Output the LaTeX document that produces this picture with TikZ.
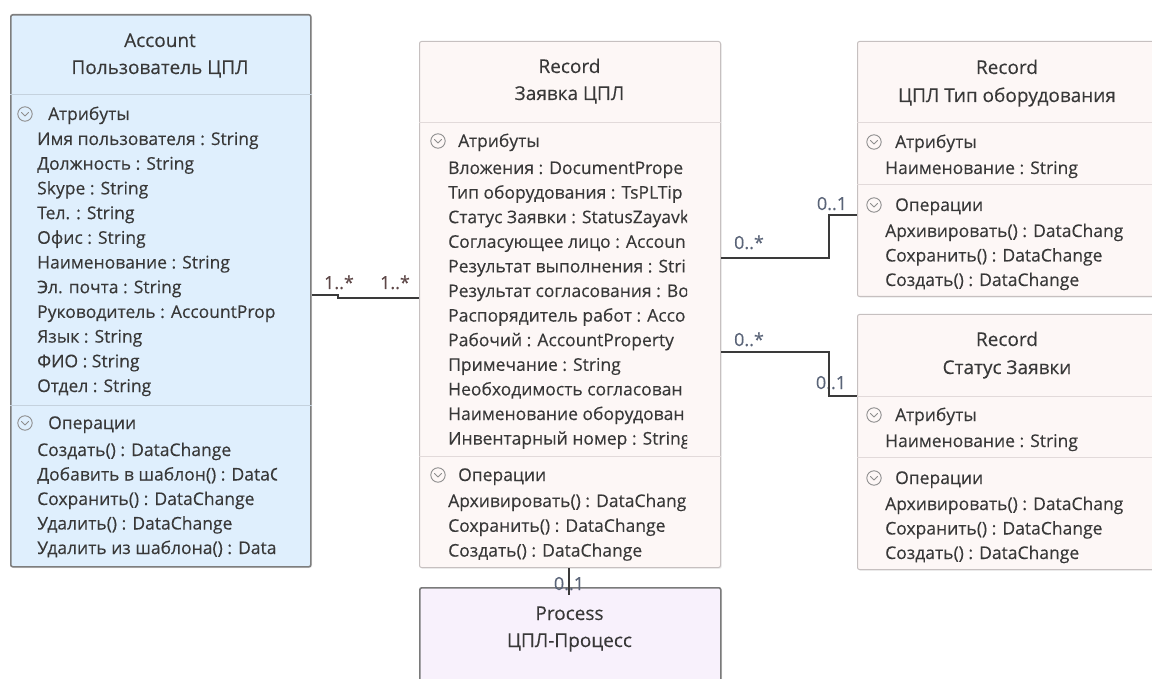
\documentclass[tikz,border=0pt]{standalone}
\usepackage{fontspec}
\setmainfont{Open Sans}[FakeBold=0.25]
\usetikzlibrary{shadows}
\definecolor{accfill}{HTML}{DFEFFD}
\definecolor{accdraw}{HTML}{7E7E7E}
\definecolor{accsep}{HTML}{C5D2DE}
\definecolor{recfill}{HTML}{FDF7F6}
\definecolor{recdraw}{HTML}{C6C0C0}
\definecolor{recsep}{HTML}{E2DADA}
\definecolor{procfill}{HTML}{F8F1FC}
\definecolor{procdraw}{HTML}{7A7A7A}
\definecolor{txtc}{HTML}{383838}
\definecolor{labc}{HTML}{5A6478}
\definecolor{lab1c}{HTML}{5E4848}
\definecolor{iconc}{HTML}{8E8E8E}
\definecolor{linec}{HTML}{3A3A3A}
\newcommand\chev[2]{%
  \draw[iconc, line width=0.9pt] (#1,#2) circle (7.2);
  \draw[iconc, line width=1pt, line cap=round, line join=round] (#1-3.6,#2-1.6) -- (#1,#2+2) -- (#1+3.6,#2-1.6);}
\tikzset{
  boxbase/.style={rectangle, rounded corners=2pt, anchor=north west, inner sep=0pt, drop shadow={shadow xshift=1.2pt, shadow yshift=-1.2pt, opacity=0.18}},
  accbox/.style={boxbase, fill=accfill, draw=accdraw, line width=1.6pt},
  recbox/.style={boxbase, fill=recfill, draw=recdraw, line width=1pt},
  procbox/.style={boxbase, fill=procfill, draw=procdraw, line width=1.6pt},
  txt/.style={inner sep=0pt, text=txtc, font=\fontsize{17.5}{21}\selectfont},
  item/.style={txt, anchor=base west},
  head/.style={txt, anchor=base, font=\fontsize{19}{23}\selectfont},
  lab/.style={inner sep=0pt, text=labc, font=\fontsize{18}{21}\selectfont, anchor=base},
  lab1/.style={lab, text=lab1c},
  conn/.style={draw=linec, line width=2pt},
  accsepl/.style={draw=accsep, line width=1pt},
  recsepl/.style={draw=recsep, line width=1pt}
}
\begin{document}
\begin{tikzpicture}[x=1pt, y=-1pt]
\useasboundingbox (0,0) rectangle (1152,679);
% ---------------- boxes
\node[accbox, minimum width=300, minimum height=552] (acc) at (10,14) {};
\node[recbox, minimum width=301, minimum height=526] (rec) at (419,41) {};
\node[recbox, minimum width=300, minimum height=255] (typ) at (857,41) {};
\node[recbox, minimum width=300, minimum height=255] (st) at (857,314) {};
\node[procbox, minimum width=301, minimum height=120] (proc) at (419,587) {};
% separators
\draw[accsepl] (acc.west |- 0,95) -- (acc.east |- 0,95);
\draw[accsepl] (acc.west |- 0,405) -- (acc.east |- 0,405);
\draw[recsepl] (rec.west |- 0,123) -- (rec.east |- 0,123);
\draw[recsepl] (rec.west |- 0,456) -- (rec.east |- 0,456);
\draw[recsepl] (typ.west |- 0,123) -- (typ.east |- 0,123);
\draw[recsepl] (typ.west |- 0,185) -- (typ.east |- 0,185);
\draw[recsepl] (st.west |- 0,396) -- (st.east |- 0,396);
\draw[recsepl] (st.west |- 0,457) -- (st.east |- 0,457);
% ---------------- Account
\node[head] (acc-t1) at (160,47) {Account};
\node[head] (acc-t2) at (160,74) {Пользователь ЦПЛ};
\chev{25}{114}
\node[item] (acc-h1) at (48,120) {Атрибуты};
\chev{25}{423}
\node[item] (acc-h2) at (48,429) {Операции};
\begin{scope}
\clip (10,14) rectangle (277,566);
\foreach \t [count=\i] in {Имя пользователя : String, Должность : String, Skype : String, Тел. : String, Офис : String, Наименование : String, Эл. почта : String, Руководитель : AccountProp, Язык : String, ФИО : String, Отдел : String}
  \node[item] (acc-a\i) at (37,{145+24.7*(\i-1)}) {\t};
\foreach \t [count=\i] in {Создать() : DataChange, Добавить в шаблон() : DataC, Сохранить() : DataChange, Удалить() : DataChange, Удалить из шаблона() : Data}
  \node[item] (acc-o\i) at (37,{456+24.5*(\i-1)}) {\t};
\end{scope}
% ---------------- Record Заявка ЦПЛ
\node[head] (rec-t1) at (569.5,73) {Record};
\node[head] (rec-t2) at (569.5,100) {Заявка ЦПЛ};
\chev{438}{141}
\node[item] (rec-h1) at (458,147) {Атрибуты};
\chev{438}{475}
\node[item] (rec-h2) at (458,481) {Операции};
\begin{scope}
\clip (419,41) rectangle (687,567);
\foreach \t [count=\i] in {Вложения : DocumentPrope, Тип оборудования : TsPLTip, Статус Заявки : StatusZayavk, Согласующее лицо : Accoun, Результат выполнения : Stri, Результат согласования : Bo, Распорядитель работ : Acco, Рабочий : AccountProperty, Примечание : String, Необходимость согласован, Наименование оборудован, Инвентарный номер : String}
  \node[item] (rec-a\i) at (448,{174+24.6*(\i-1)}) {\t};
\foreach \t [count=\i] in {Архивировать() : DataChang, Сохранить() : DataChange, Создать() : DataChange}
  \node[item] (rec-o\i) at (448,{507+24.8*(\i-1)}) {\t};
\end{scope}
% ---------------- Record ЦПЛ Тип оборудования
\node[head] (typ-t1) at (1007,74) {Record};
\node[head] (typ-t2) at (1007,102) {ЦПЛ Тип оборудования};
\chev{874}{142}
\node[item] (typ-h1) at (895,148) {Атрибуты};
\chev{874}{205}
\node[item] (typ-h2) at (895,211) {Операции};
\begin{scope}
\clip (857,41) rectangle (1123,296);
\node[item] (typ-a1) at (885,174) {Наименование : String};
\foreach \t [count=\i] in {Архивировать() : DataChang, Сохранить() : DataChange, Создать() : DataChange}
  \node[item] (typ-o\i) at (885,{237+24.5*(\i-1)}) {\t};
\end{scope}
% ---------------- Record Статус Заявки
\node[head] (st-t1) at (1007,346) {Record};
\node[head] (st-t2) at (1007,374) {Статус Заявки};
\chev{874}{415}
\node[item] (st-h1) at (895,421) {Атрибуты};
\chev{874}{478}
\node[item] (st-h2) at (895,484) {Операции};
\begin{scope}
\clip (857,314) rectangle (1123,569);
\node[item] (st-a1) at (885,447) {Наименование : String};
\foreach \t [count=\i] in {Архивировать() : DataChang, Сохранить() : DataChange, Создать() : DataChange}
  \node[item] (st-o\i) at (885,{510+24.5*(\i-1)}) {\t};
\end{scope}
% ---------------- Process
\node[head] (proc-t1) at (569.5,620) {Process};
\node[head] (proc-t2) at (569.5,647) {ЦПЛ-Процесс};
% ---------------- connectors
\node[lab1] (l1) at (339,289) {1..*};
\node[lab1] (l2) at (395,289) {1..*};
\draw[conn] (acc.east |- 0,295) -- (338,295) -- (338,298) -- (rec.west |- 0,298);
\node[lab] (l3) at (749,249) {0..*};
\node[lab] (l4) at (832,210) {0..1};
\draw[conn] (rec.east |- 0,258) -- (829,258) -- (829,215) -- (typ.west |- 0,215);
\node[lab] (l5) at (749,346) {0..*};
\node[lab] (l6) at (831,389) {0..1};
\draw[conn] (rec.east |- 0,352) -- (829,352) -- (829,396) -- (st.west |- 0,396);
\node[lab] (l7) at (569,590) {0..1};
\draw[conn] (rec.south -| 569,0) -- (569,595);
\end{tikzpicture}
\end{document}
